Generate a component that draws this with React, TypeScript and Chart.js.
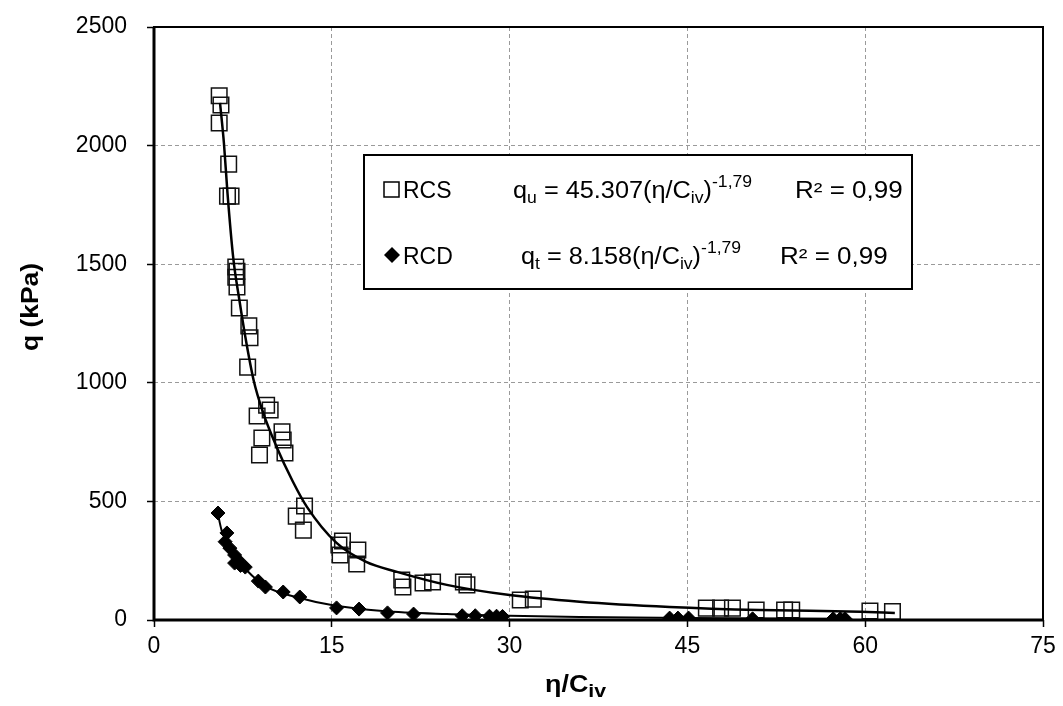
import React, { useEffect, useRef } from "react";
import { Chart, registerables } from "chart.js";

Chart.register(...registerables);

// RCS (open squares)
const rcsX = [5.5, 5.65, 5.5, 6.3, 6.2, 6.5, 6.9, 7.0, 6.9, 7.0, 7.2, 8.0, 8.1, 7.9, 9.5, 9.8, 8.7, 9.1, 8.9, 10.8, 10.9, 11.05, 12.7, 12.0, 12.6, 15.9, 15.6, 15.7, 17.2, 17.1, 20.9, 21.0, 22.7, 23.5, 26.1, 26.4, 30.9, 32.0, 46.6, 47.8, 48.8, 50.8, 53.2, 53.8, 60.4, 62.3];
const rcsY = [2210, 2171, 2095, 1922, 1787, 1787, 1488, 1470, 1445, 1404, 1315, 1240, 1190, 1066, 905, 885, 860, 767, 696, 793, 759, 704, 481, 438, 379, 333, 316, 274, 295, 236, 169, 139, 156, 160, 160, 148, 84, 88, 50, 50, 50, 42, 42, 42, 38, 36];

// RCD (filled diamonds)
const rcdX = [5.4, 6.15, 6.0, 6.4, 6.8, 7.1, 6.8, 7.3, 7.7, 8.8, 9.4, 10.9, 12.3, 15.4, 17.3, 19.7, 21.9, 26.0, 27.1, 28.3, 28.9, 29.4, 43.5, 44.2, 45.1, 50.5, 57.3, 57.9, 58.3];
const rcdY = [451, 367, 330, 303, 274, 253, 240, 230, 223, 164, 139, 118, 97, 51, 46, 30, 25, 18, 18, 16, 16, 15, 8, 8, 8, 5, 5, 5, 5];

// Trend curves
const rcsFitX = [5.57, 5.9, 6.2, 6.7, 7.2, 7.7, 8.4, 9.2, 10.3, 11.7, 12.9, 15.4, 17.9, 20.5, 24.7, 30, 35.9, 43.5, 51.1, 59.6, 62.5];
const rcsFitY = [2180, 2010, 1800, 1520, 1350, 1195, 1012, 875, 735, 585, 477, 325, 245, 203, 148, 105, 77, 55, 42, 35, 30];
const rcdFitX = [5.37, 5.7, 6.4, 7.8, 9.5, 12.3, 15.1, 19.3, 24.7, 30, 35.9, 45, 58.3];
const rcdFitY = [452, 379, 300, 211, 140, 93, 62, 38, 25, 18, 13, 8, 5];

const xTicks = [0, 15, 30, 45, 60, 75];
const yTicks = [0, 500, 1000, 1500, 2000, 2500];

const FONT = "'Liberation Sans', Arial, sans-serif";

const zip = (xs: number[], ys: number[]) => xs.map((x, i) => ({ x, y: ys[i] }));

type Seg = { t: string; size: number; dy?: number; bold?: boolean };

function drawRuns(ctx: CanvasRenderingContext2D, x: number, y: number, segs: Seg[], sx = 1) {
  ctx.save();
  ctx.translate(x, y);
  ctx.scale(sx, 1);
  let cx = 0;
  for (const s of segs) {
    ctx.font = `${s.bold ? "bold " : ""}${s.size}px ${FONT}`;
    ctx.fillText(s.t, cx, s.dy || 0);
    cx += ctx.measureText(s.t).width;
  }
  ctx.restore();
}

const overlay = {
  id: "overlay",
  afterDraw(chart: any) {
    const ctx: CanvasRenderingContext2D = chart.ctx;
    const a = chart.chartArea;
    ctx.save();
    // frame
    ctx.strokeStyle = "#000";
    ctx.lineWidth = 2;
    ctx.strokeRect(a.left, a.top, a.right - a.left, a.bottom - a.top);
    ctx.lineWidth = 3;
    ctx.beginPath();
    ctx.moveTo(a.left, a.top);
    ctx.lineTo(a.left, a.bottom);
    ctx.lineTo(a.right, a.bottom);
    ctx.stroke();

    // legend box
    const bx = 364, by = 155, bw = 548, bh = 134;
    ctx.fillStyle = "#fff";
    ctx.fillRect(bx, by, bw, bh);
    ctx.lineWidth = 2;
    ctx.strokeRect(bx, by, bw, bh);

    ctx.fillStyle = "#000";
    ctx.textBaseline = "alphabetic";
    ctx.textAlign = "left";
    // row 1
    const r1 = 198;
    ctx.lineWidth = 1.5;
    ctx.strokeRect(384, r1 - 16, 15, 15);
    drawRuns(ctx, 403, r1, [{ t: "RCS", size: 23 }]);
    drawRuns(ctx, 513, r1, [
      { t: "q", size: 23 },
      { t: "u", size: 16, dy: 5 },
      { t: " = 45.307(η/C", size: 23 },
      { t: "iv", size: 16, dy: 5 },
      { t: ")", size: 23 },
      { t: "-1,79", size: 16, dy: -11 },
    ], 1.1);
    drawRuns(ctx, 795, r1, [{ t: "R² = 0,99", size: 23 }], 1.13);
    // row 2
    const r2 = 264;
    ctx.beginPath();
    ctx.moveTo(392, r2 - 17);
    ctx.lineTo(400, r2 - 9);
    ctx.lineTo(392, r2 - 1);
    ctx.lineTo(384, r2 - 9);
    ctx.closePath();
    ctx.fill();
    drawRuns(ctx, 403, r2, [{ t: "RCD", size: 23 }]);
    drawRuns(ctx, 521, r2, [
      { t: "q", size: 23 },
      { t: "t", size: 16, dy: 5 },
      { t: " = 8.158(η/C", size: 23 },
      { t: "iv", size: 16, dy: 5 },
      { t: ")", size: 23 },
      { t: "-1,79", size: 16, dy: -11 },
    ], 1.1);
    drawRuns(ctx, 780, r2, [{ t: "R² = 0,99", size: 23 }], 1.13);

    // x axis title
    drawRuns(ctx, 545, 692, [
      { t: "η/C", size: 24, bold: true },
      { t: "iv", size: 19, bold: true, dy: 5 },
    ], 1.12);
    // y axis title
    ctx.translate(38, 307);
    ctx.rotate(-Math.PI / 2);
    ctx.scale(1.15, 1);
    ctx.textAlign = "center";
    ctx.font = `bold 23px ${FONT}`;
    ctx.fillText("q (kPa)", 0, 0);
    ctx.restore();
  },
};

export default function App() {
  const ref = useRef<HTMLCanvasElement | null>(null);
  useEffect(() => {
    if (!ref.current) return;
    const chart = new Chart(ref.current, {
      type: "scatter",
      data: {
        datasets: [
          {
            label: "RCS fit",
            data: zip(rcsFitX, rcsFitY),
            showLine: true,
            borderColor: "#000",
            borderWidth: 2.5,
            pointRadius: 0,
            cubicInterpolationMode: "monotone",
            order: 0,
          } as any,
          {
            label: "RCD fit",
            data: zip(rcdFitX, rcdFitY),
            showLine: true,
            borderColor: "#000",
            borderWidth: 2,
            pointRadius: 0,
            cubicInterpolationMode: "monotone",
            order: 0,
          } as any,
          {
            label: "RCS",
            data: zip(rcsX, rcsY),
            pointStyle: "rect",
            pointRadius: 11,
            borderColor: "#111",
            borderWidth: 1.5,
            backgroundColor: "rgba(0,0,0,0)",
            order: 1,
          },
          {
            label: "RCD",
            data: zip(rcdX, rcdY),
            pointStyle: "rectRot",
            pointRadius: 7,
            borderColor: "#000",
            borderWidth: 1,
            backgroundColor: "#000",
            order: 1,
          },
        ],
      },
      options: {
        responsive: false,
        animation: false,
        devicePixelRatio: 1,
        layout: { padding: { left: 0, right: 20, top: 27, bottom: 0 } },
        plugins: { legend: { display: false }, tooltip: { enabled: false } },
        scales: {
          x: {
            type: "linear",
            min: 0,
            max: 75,
            afterBuildTicks: (s: any) => {
              s.ticks = xTicks.map((v) => ({ value: v }));
            },
            afterFit: (s: any) => {
              s.height = 86;
              s.paddingLeft = 0;
              s.paddingRight = 0;
            },
            ticks: {
              color: "#000",
              font: { family: FONT, size: 23 },
              padding: 6,
              maxRotation: 0,
              callback: (v: any) => String(v),
            },
            grid: { color: "#9a9a9a", lineWidth: 1, tickLength: 7, tickColor: "#000", tickWidth: 1.5 },
            border: { display: false, dash: [4, 3] },
          },
          y: {
            type: "linear",
            min: 0,
            max: 2500,
            afterBuildTicks: (s: any) => {
              s.ticks = yTicks.map((v) => ({ value: v }));
            },
            afterFit: (s: any) => {
              s.width = 154;
              s.paddingTop = 0;
              s.paddingBottom = 0;
            },
            ticks: {
              color: "#000",
              font: { family: FONT, size: 23 },
              padding: 20,
              callback: (v: any) => String(v),
            },
            grid: { color: "#9a9a9a", lineWidth: 1, tickLength: 7, tickColor: "#000", tickWidth: 1.5 },
            border: { display: false, dash: [4, 3] },
          },
        },
      },
      plugins: [overlay],
    });
    return () => chart.destroy();
  }, []);
  return (
    <div style={{ position: "fixed", left: 0, top: 0, width: 1063, height: 706, background: "#fff" }}>
      <canvas ref={ref} width={1063} height={706} style={{ width: 1063, height: 706 }} />
    </div>
  );
}
